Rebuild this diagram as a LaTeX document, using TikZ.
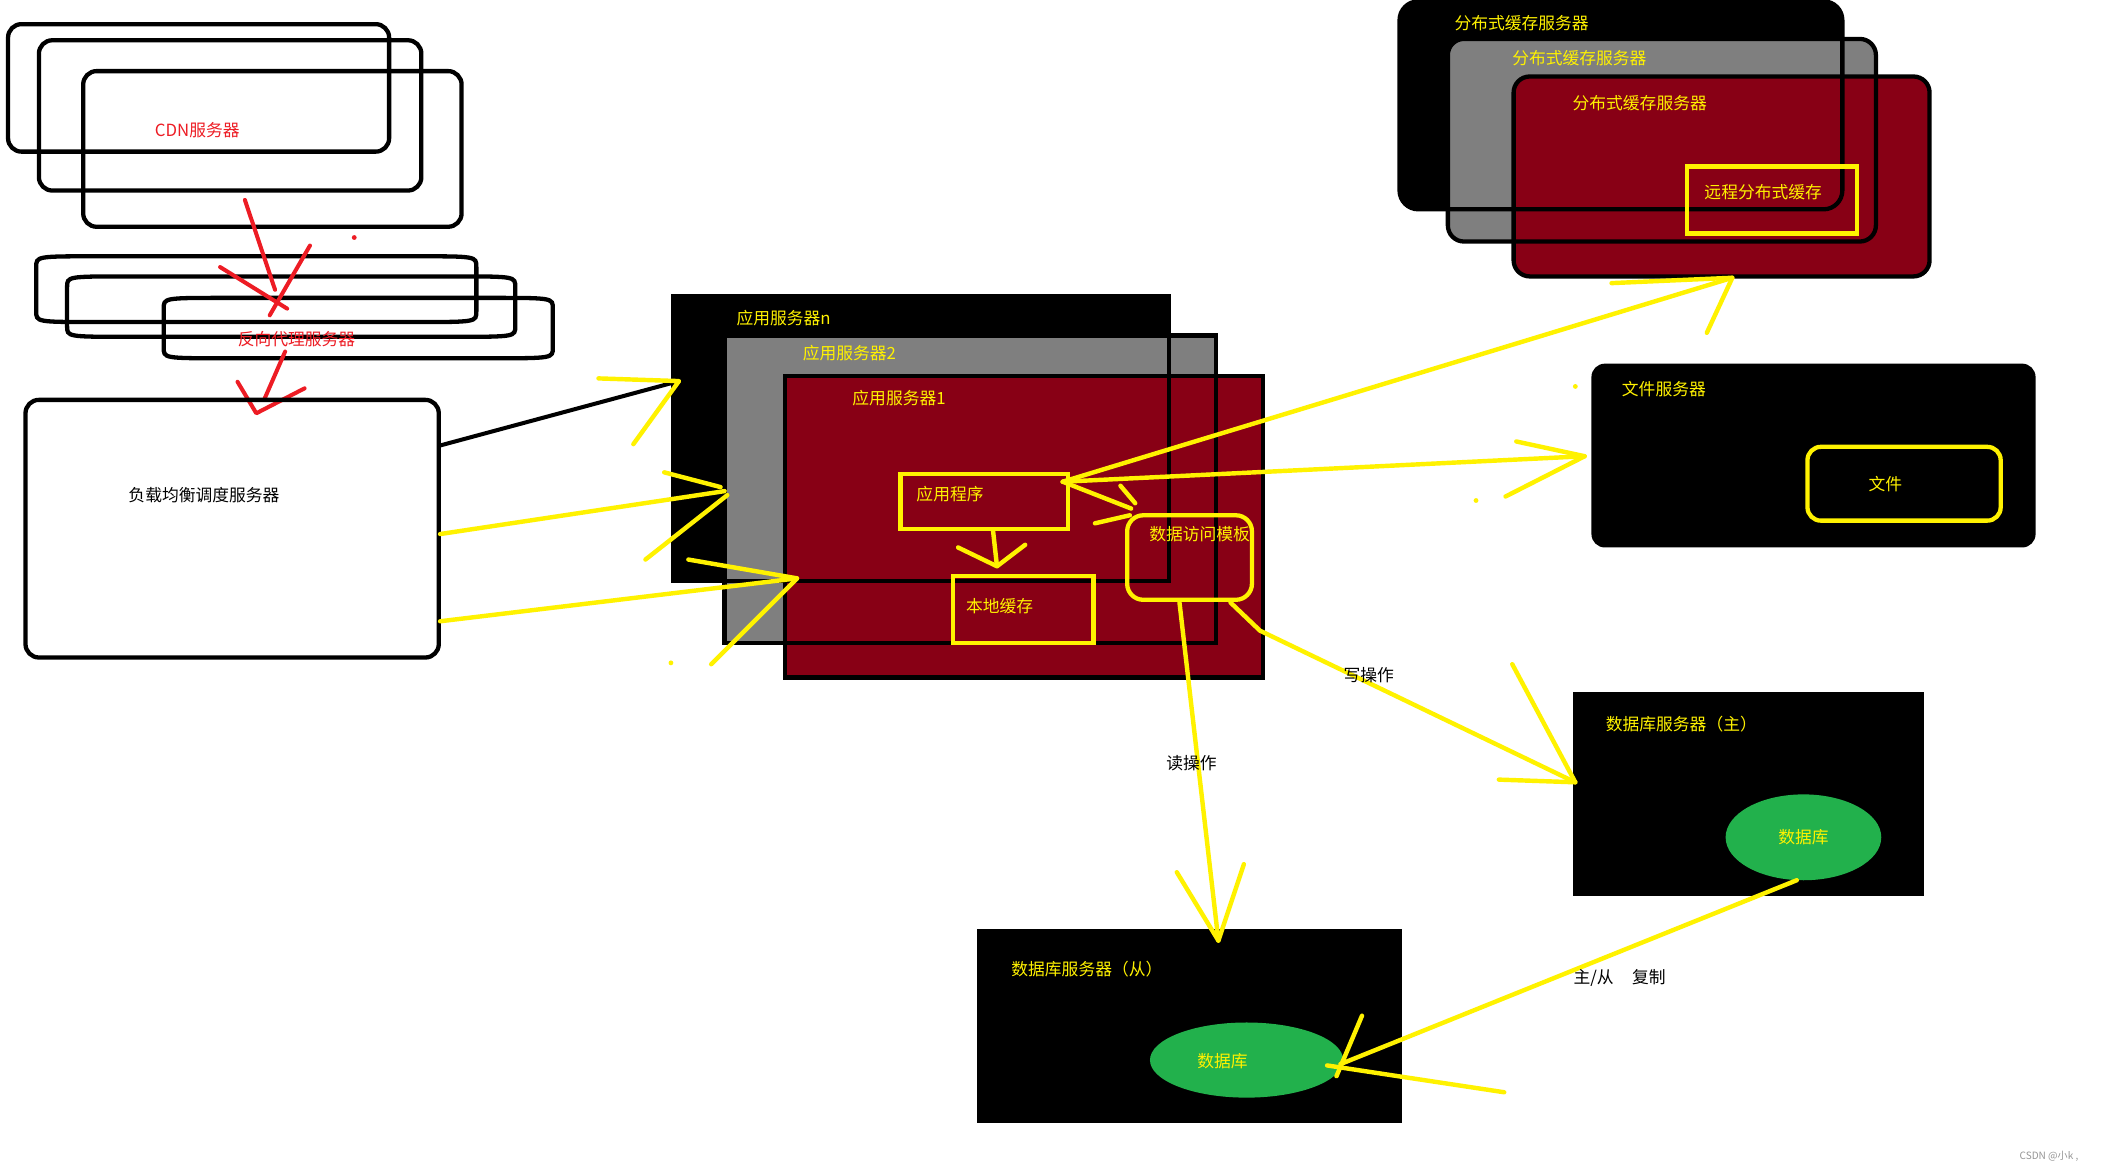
\documentclass[tikz,border=0pt]{standalone}
\usepackage{fontspec}
\newfontfamily\cjk{Noto Sans CJK SC}
\usetikzlibrary{calc}
\definecolor{pyellow}{RGB}{255,242,0}
\definecolor{pred}{RGB}{237,28,36}
\definecolor{pdark}{RGB}{136,0,21}
\definecolor{pgray}{RGB}{127,127,127}
\definecolor{pgreen}{RGB}{34,177,76}
\definecolor{wmark}{RGB}{150,150,150}
\newcommand\pbarrel[4]{%
  \draw[blk] (#1,#2+8) .. controls (#1,#2) .. (#1+45,#2) -- (#3-45,#2)
    .. controls (#3,#2) .. (#3,#2+8) -- (#3,#4-8) .. controls (#3,#4) .. (#3-45,#4)
    -- (#1+45,#4) .. controls (#1,#4) .. (#1,#4-8) -- cycle;}
\begin{document}
\begin{tikzpicture}[x=1pt,y=-1pt,
  blk/.style={draw=black,line width=3.2pt},
  yl/.style={draw=pyellow,line width=3.3pt,line cap=round,line join=round},
  rl/.style={draw=pred,line width=3pt,line cap=round,line join=round},
  ybox/.style={draw=pyellow,line width=3.2pt},
  txt/.style={inner sep=0pt,font=\cjk\fontsize{12.5}{14}\selectfont},
  ytxt/.style={txt,text=pyellow},
  rtxt/.style={txt,text=pred},
  ktxt/.style={txt,text=black}]
\useasboundingbox[fill=white] (0,0) rectangle (1568,875);

% ---------- CDN servers ----------
\draw[blk,rounded corners=10pt] (6,18) rectangle (290,113);
\draw[blk,rounded corners=10pt] (29,30) rectangle (314,142);
\draw[blk,rounded corners=10pt] (62,53) rectangle (344,169);
\node[rtxt] (cdn) at (147,97) {CDN服务器};

% ---------- reverse proxy ----------
\pbarrel{27}{191}{355}{240}
\pbarrel{50}{206}{384}{251}
\pbarrel{122}{222}{412}{267}
\node[rtxt] (proxy) at (221,253) {反向代理服务器};

% red arrows
\coordinate (r1s) at (182.5,149);
\coordinate (r1t) at (205,216);
\draw[rl] (r1s) -- (r1t);
\draw[rl] (164,199) -- (214,230);
\draw[rl] (231,183) -- (201,235);
\coordinate (r2s) at (212.5,262);
\coordinate (r2t) at (191,308);
\draw[rl] (r2s) -- (196.8,298);
\draw[rl] ($(r2t)+(-14,-23.5)$) -- (r2t) -- ($(r2t)+(36,-18.6)$);
\fill[pred] (264,177) circle (1.8);

% ---------- load balancer ----------
\draw[blk,rounded corners=10pt] (19,298) rectangle (327,490);
\node[ktxt] (lb) at (152,369) {负载均衡调度服务器};
\coordinate (lbA) at (328,332);
\coordinate (lbB) at (328,398);
\coordinate (lbC) at (328,463);

% ---------- application servers ----------
\fill[black] (502,221) rectangle (871,433);
\fill[pgray] (540,250) rectangle (906,479);
\fill[pdark] (585,280) rectangle (941,505);
\draw[blk] (502,221) rectangle (871,433);
\draw[blk] (540,250) rectangle (906,479);
\draw[blk] (585,280) rectangle (941,505);
\node[ytxt] (asn) at (584,237) {应用服务器n};
\node[ytxt] (as2) at (633,263) {应用服务器2};
\node[ytxt] (as1) at (670,297) {应用服务器1};
\draw[ybox] (671,353) rectangle (796,394);
\node[ytxt] (app) at (708,368) {应用程序};
\draw[ybox] (710,429) rectangle (815,479);
\node[ytxt] (lc) at (745,452) {本地缓存};
\draw[ybox,rounded corners=12pt] (840,384) rectangle (933,447);
\node[ytxt] (dam) at (894,398) {数据访问模板};

% ---------- distributed cache ----------
\fill[black,rounded corners=14pt] (1043,1) rectangle (1373,156);
\fill[pgray,rounded corners=12pt] (1079,29) rectangle (1398,180);
\fill[pdark,rounded corners=12pt] (1128,57) rectangle (1438,206);
\draw[blk,rounded corners=14pt] (1043,1) rectangle (1373,156);
\draw[blk,rounded corners=12pt] (1079,29) rectangle (1398,180);
\draw[blk,rounded corners=12pt] (1128,57) rectangle (1438,206);
\node[ytxt] (dc1) at (1134,17) {分布式缓存服务器};
\node[ytxt] (dc2) at (1177,43) {分布式缓存服务器};
\node[ytxt] (dc3) at (1222,77) {分布式缓存服务器};
\draw[ybox] (1257,124) rectangle (1384,174);
\node[ytxt] (rdc) at (1314,143) {远程分布式缓存};

% ---------- file server ----------
\fill[black,rounded corners=10pt] (1186,271) rectangle (1517,408);
\node[ytxt] (fs) at (1240,290) {文件服务器};
\draw[ybox,rounded corners=10pt] (1347,333) rectangle (1491,388);
\node[ytxt] (file) at (1405,361) {文件};

% ---------- database servers ----------
\fill[black] (1172,516) rectangle (1434,668);
\node[ytxt] (dbm) at (1253,540) {数据库服务器（主）};
\fill[pgreen] (1344,624) ellipse [x radius=58, y radius=32];
\node[ytxt] (dbmdb) at (1344,624) {数据库};
\fill[black] (728,692) rectangle (1045,837);
\node[ytxt] (dbs) at (810,722) {数据库服务器（从）};
\fill[pgreen] (929,790) ellipse [x radius=72, y radius=28];
\node[ytxt] (dbsdb) at (911,791) {数据库};

% ---------- connectors ----------
% LB -> app server n (black shaft, yellow head)
\coordinate (t1) at (506,284);
\draw[draw=black,line width=3pt] (lbA) -- (t1);
\draw[yl] ($(t1)+(-60,-2)$) -- (t1) -- ($(t1)+(-34,47)$);
% LB -> app server 2
\coordinate (t2) at (540,366);
\draw[yl] (lbB) -- (t2);
\draw[yl] ($(t2)+(-45,-14)$) -- ($(t2)+(-3,-3)$);
\draw[yl] ($(t2)+(-59,51)$) -- ($(t2)+(2,3)$);
% LB -> app server 1
\coordinate (t3) at (594,431);
\draw[yl] (lbC) -- (t3);
\draw[yl] ($(t3)+(-81,-14)$) -- (t3) -- ($(t3)+(-64,64)$);
% app -> local cache
\coordinate (a4) at (740,395);
\coordinate (t4) at (743,422);
\draw[yl] (a4) -- (t4);
\draw[yl] ($(t4)+(-29,-14)$) -- (t4) -- ($(t4)+(21,-16)$);
% app -> data access module
\coordinate (ap) at (792,359);
\coordinate (t5) at (845,379);
\draw[yl] (ap) -- ($(t5)+(-2,0)$);
\draw[yl] ($(t5)+(-10,-17)$) -- ($(t5)+(1,-4)$);
\draw[yl] ($(t5)+(-29,11)$) -- ($(t5)+(-3,5)$);
% app -> distributed cache
\coordinate (t6) at (1291,207);
\draw[yl] (ap) -- (t6);
\draw[yl] ($(t6)+(-90,4)$) -- (t6) -- ($(t6)+(-19,41)$);
% app -> file server
\coordinate (t7) at (1181,340);
\draw[yl] (ap) -- (t7);
\draw[yl] ($(t7)+(-51,-11)$) -- (t7) -- ($(t7)+(-59,30)$);
% read
\coordinate (d1) at (879,449);
\coordinate (t8) at (908,701);
\draw[yl] (d1) -- (t8);
\draw[yl] ($(t8)+(-31,-51)$) -- (t8) -- ($(t8)+(19,-57)$);
\node[ktxt] (read) at (888,569) {读操作};
% write
\coordinate (d2) at (917,449);
\coordinate (t9) at (1174,583);
\draw[yl] (d2) -- (939,470) -- (t9);
\draw[yl] ($(t9)+(-47,-88)$) -- (t9) -- ($(t9)+(-57,-2)$);
\node[ktxt] (write) at (1020,503) {写操作};
% replication
\coordinate (m1) at (1339,656);
\coordinate (t10) at (999,793);
\draw[yl] (m1) -- (t10);
\draw[yl] ($(t10)+(16,-36)$) -- ($(t10)+(-3,9)$);
\draw[yl] ($(t10)+(-10,1)$) -- ($(t10)+(122,21)$);
\node[ktxt] (repl) at (1207,729) {主/从\hspace{1.1em}复制};

% dots
\fill[pyellow] (500,494) circle (1.8);
\fill[pyellow] (1100,373) circle (1.8);
\fill[pyellow] (1174,288) circle (1.8);

% watermark
\node[inner sep=0pt,text=wmark,font=\cjk\fontsize{7.5}{9}\selectfont] (wm) at (1527,862) {CSDN @小k ,};
\end{tikzpicture}
\end{document}
